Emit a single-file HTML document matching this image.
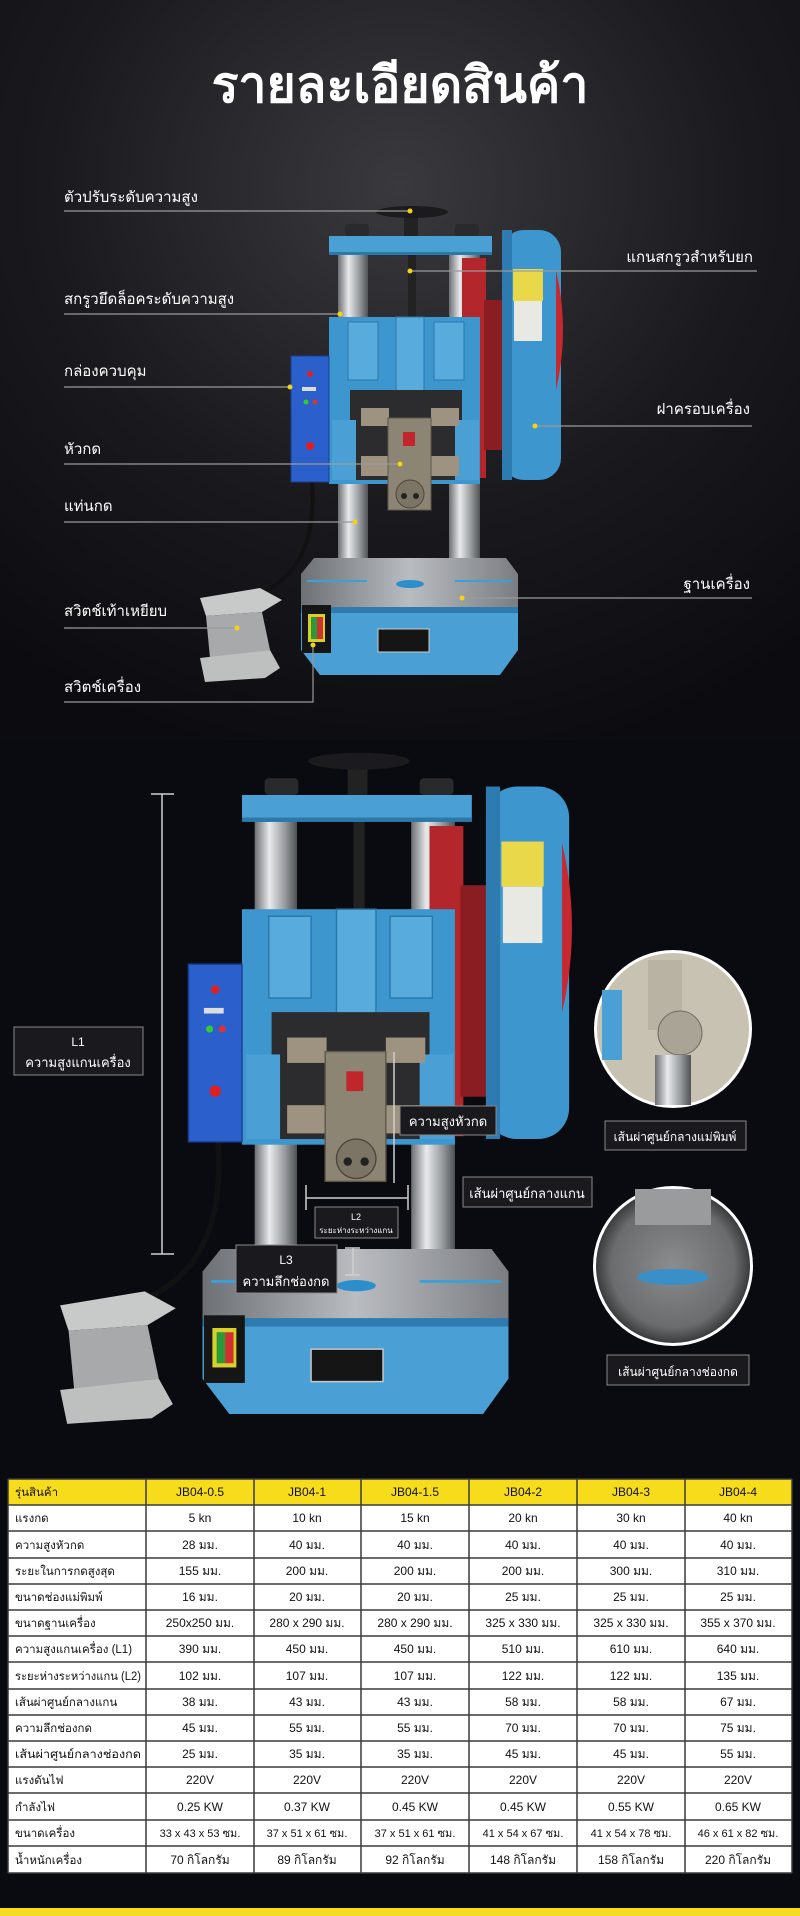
<!DOCTYPE html>
<html><head><meta charset="utf-8"><style>
html,body{margin:0;padding:0;background:#0b0b10;}
svg{display:block}
text{font-family:"Liberation Sans","DejaVu Sans",sans-serif;}
</style></head><body>
<svg width="800" height="1916" viewBox="0 0 800 1916" xmlns="http://www.w3.org/2000/svg">
<defs>
<radialGradient id="bg1" cx="0.5" cy="0.25" r="0.8">
<stop offset="0" stop-color="#3a3a3e"/><stop offset="0.55" stop-color="#1a1a1e"/><stop offset="1" stop-color="#0c0c10"/>
</radialGradient>
<linearGradient id="steel" x1="0" x2="1" y1="0" y2="0">
<stop offset="0" stop-color="#6b6e72"/><stop offset="0.35" stop-color="#e8eaec"/><stop offset="0.7" stop-color="#9a9da1"/><stop offset="1" stop-color="#505356"/>
</linearGradient>
<linearGradient id="basetop" x1="0" x2="1" y1="0" y2="0">
<stop offset="0" stop-color="#6d7075"/><stop offset="0.5" stop-color="#b9bcc0"/><stop offset="1" stop-color="#7a7d82"/>
</linearGradient>
<radialGradient id="circ" cx="0.5" cy="0.5" r="0.5">
<stop offset="0" stop-color="#8a8c8e"/><stop offset="0.8" stop-color="#6a6c6e"/><stop offset="1" stop-color="#3a3b3d"/>
</radialGradient>
<g id="m">
 <path d="M312,482 C316,540 300,580 250,598" stroke="#111" stroke-width="4" fill="none"/>
 <rect x="404" y="212" width="14" height="28" fill="#222"/>
 <ellipse cx="412" cy="212" rx="36" ry="6" fill="#1b1b1d"/>
 <rect x="345" y="224" width="24" height="12" rx="3" fill="#2a2a2c"/>
 <rect x="455" y="224" width="24" height="12" rx="3" fill="#2a2a2c"/>
 <rect x="338" y="255" width="30" height="312" fill="url(#steel)"/>
 <rect x="449" y="255" width="31" height="312" fill="url(#steel)"/>
 <rect x="408" y="255" width="8" height="65" fill="#222"/>
 <rect x="462" y="258" width="24" height="220" fill="#b3262c"/>
 <rect x="329" y="236" width="163" height="19" fill="#4aa0d4"/>
 <rect x="329" y="252" width="163" height="3" fill="#2c78a8"/>
 <rect x="329" y="317" width="151" height="167" fill="#3e96cf"/>
 <rect x="348" y="322" width="30" height="58" fill="#58acdd" stroke="#2a77a9"/>
 <rect x="396" y="317" width="28" height="90" fill="#58acdd" stroke="#2a77a9"/>
 <rect x="434" y="322" width="30" height="58" fill="#58acdd" stroke="#2a77a9"/>
 <rect x="350" y="390" width="112" height="90" fill="#2c2c2e"/>
 <rect x="332" y="420" width="24" height="60" fill="#4aa0d4"/>
 <rect x="455" y="420" width="24" height="60" fill="#4aa0d4"/>
 <rect x="361" y="408" width="28" height="18" fill="#9e9380"/>
 <rect x="431" y="408" width="28" height="18" fill="#9e9380"/>
 <rect x="361" y="456" width="28" height="20" fill="#9e9380"/>
 <rect x="431" y="456" width="28" height="20" fill="#9e9380"/>
 <rect x="388" y="418" width="43" height="92" fill="#8d8574" stroke="#5e574b"/>
 <rect x="403" y="432" width="12" height="14" fill="#c0262c"/>
 <circle cx="410" cy="494" r="14" fill="#7c7566" stroke="#4d473d"/>
 <circle cx="404" cy="496" r="3" fill="#222"/><circle cx="416" cy="496" r="3" fill="#222"/>
 <rect x="484" y="300" width="20" height="150" fill="#8a1d22"/>
 <rect x="502" y="230" width="59" height="250" rx="22" fill="#3e96cf"/>
 <rect x="502" y="230" width="10" height="250" fill="#2d7bb0"/>
 <rect x="513" y="269" width="30" height="32" fill="#e8d84a"/>
 <rect x="514" y="301" width="28" height="40" fill="#e9e9e4"/>
 <path d="M556,270 Q570,330 556,390 Z" fill="#c62a30"/>
 <rect x="291" y="356" width="38" height="126" fill="#2a5fcc" stroke="#1b3f8f"/>
 <circle cx="310" cy="374" r="3" fill="#e02020"/>
 <rect x="302" y="387" width="14" height="4" fill="#ddd"/>
 <circle cx="306" cy="402" r="2.5" fill="#3c3"/><circle cx="315" cy="402" r="2.5" fill="#d33"/>
 <circle cx="310" cy="446" r="4" fill="#e02020"/>
 <polygon points="314,558 506,558 518,574 518,610 301,610 301,574" fill="url(#basetop)"/>
 <ellipse cx="410" cy="584" rx="14" ry="4" fill="#2c8fcc"/>
 <rect x="307" y="580" width="60" height="2" fill="#3aa0da"/>
 <rect x="455" y="580" width="58" height="2" fill="#3aa0da"/>
 <polygon points="301,610 518,610 518,650 500,675 320,675 301,650" fill="#4aa0d4"/>
 <rect x="301" y="607" width="217" height="6" fill="#2d7bb0"/>
 <rect x="302" y="605" width="29" height="48" fill="#151515"/>
 <rect x="308" y="614" width="17" height="28" fill="#d7d02a"/>
 <rect x="311" y="617" width="6" height="22" fill="#2a9a3a"/><rect x="317" y="617" width="6" height="22" fill="#d03030"/>
 <rect x="378" y="629" width="51" height="23" fill="#151515" stroke="#ccc"/>
 <polygon points="200,598 260,588 282,600 262,612 206,616" fill="#c8c9c9"/>
 <polygon points="206,616 262,612 270,650 210,658" fill="#a8a9aa"/>
 <polygon points="200,658 270,650 280,668 265,678 205,682" fill="#bebfbf"/>
</g>
</defs>

<rect x="0" y="0" width="800" height="740" fill="url(#bg1)"/>
<rect x="0" y="740" width="800" height="1176" fill="#0a0a11"/>

<text x="400" y="102" text-anchor="middle" font-size="50" font-weight="bold" fill="#fff">รายละเอียดสินค้า</text>

<use href="#m"/>

<g font-size="15" fill="#fff">
<text x="64" y="202">ตัวปรับระดับความสูง</text>
<text x="64" y="304">สกรูวยึดล็อคระดับความสูง</text>
<text x="64" y="376">กล่องควบคุม</text>
<text x="64" y="454">หัวกด</text>
<text x="64" y="511">แท่นกด</text>
<text x="64" y="616">สวิตช์เท้าเหยียบ</text>
<text x="64" y="692">สวิตช์เครื่อง</text>
<text x="753" y="262" text-anchor="end">แกนสกรูวสำหรับยก</text>
<text x="750" y="414" text-anchor="end">ฝาครอบเครื่อง</text>
<text x="750" y="589" text-anchor="end">ฐานเครื่อง</text>
</g>
<g stroke="#9a9a9a" stroke-width="1.2" fill="none">
<line x1="64" y1="211" x2="410" y2="211"/>
<line x1="64" y1="314" x2="340" y2="314"/>
<line x1="64" y1="387" x2="290" y2="387"/>
<line x1="64" y1="464" x2="400" y2="464"/>
<line x1="64" y1="522" x2="355" y2="522"/>
<line x1="64" y1="628" x2="237" y2="628"/>
<polyline points="64,702 313,702 313,645"/>
<line x1="410" y1="271" x2="757" y2="271"/>
<line x1="535" y1="426" x2="752" y2="426"/>
<line x1="462" y1="598" x2="752" y2="598"/>
</g>
<g fill="#f5d313">
<circle cx="410" cy="211" r="2.5"/><circle cx="340" cy="314" r="2.5"/><circle cx="290" cy="387" r="2.5"/>
<circle cx="400" cy="464" r="2.5"/><circle cx="355" cy="522" r="2.5"/><circle cx="237" cy="628" r="2.5"/>
<circle cx="313" cy="645" r="2.5"/><circle cx="410" cy="271" r="2.5"/><circle cx="535" cy="426" r="2.5"/><circle cx="462" cy="598" r="2.5"/>
</g>

<use href="#m" transform="translate(242,795) scale(1.41) translate(-329,-236)"/>

<g stroke="#cfcfcf" stroke-width="1.5">
<line x1="162" y1="794" x2="162" y2="1254"/>
<line x1="151" y1="794" x2="174" y2="794"/>
<line x1="151" y1="1254" x2="174" y2="1254"/>
<line x1="306" y1="1198" x2="408" y2="1198"/>
<line x1="306" y1="1185" x2="306" y2="1210"/>
<line x1="408" y1="1185" x2="408" y2="1210"/>
<line x1="353" y1="1248" x2="353" y2="1275"/>
<line x1="345" y1="1248" x2="360" y2="1248"/>
<line x1="345" y1="1275" x2="360" y2="1275"/>
<line x1="394" y1="1052" x2="394" y2="1183"/>
</g>
<g fill="#1a1a1e" stroke="#8a8a8a" stroke-width="1">
<rect x="14" y="1027" width="129" height="48"/>
<rect x="400" y="1106" width="96" height="29"/>
<rect x="463" y="1177" width="129" height="30"/>
<rect x="315" y="1207" width="83" height="31"/>
<rect x="236" y="1245" width="101" height="48"/>
<rect x="605" y="1121" width="141" height="29"/>
<rect x="607" y="1355" width="142" height="30"/>
</g>
<g fill="#fff" text-anchor="middle">
<text x="78" y="1046" font-size="12">L1</text>
<text x="78" y="1067" font-size="13">ความสูงแกนเครื่อง</text>
<text x="448" y="1126" font-size="13">ความสูงหัวกด</text>
<text x="527" y="1198" font-size="13">เส้นผ่าศูนย์กลางแกน</text>
<text x="356" y="1220" font-size="9">L2</text>
<text x="356" y="1233" font-size="8">ระยะห่างระหว่างแกน</text>
<text x="286" y="1264" font-size="12">L3</text>
<text x="286" y="1286" font-size="13">ความลึกช่องกด</text>
<text x="675" y="1141" font-size="12">เส้นผ่าศูนย์กลางแม่พิมพ์</text>
<text x="678" y="1376" font-size="12">เส้นผ่าศูนย์กลางช่องกด</text>
</g>
<circle cx="673" cy="1029" r="79" fill="#fff"/>
<circle cx="673" cy="1029" r="76" fill="#c8c2b2"/>
<rect x="602" y="990" width="20" height="70" fill="#4aa0d4"/>
<rect x="648" y="960" width="34" height="70" fill="#b9b3a3"/>
<circle cx="680" cy="1033" r="22" fill="#aaa497" stroke="#6f6a5e"/>
<rect x="655" y="1055" width="36" height="50" fill="url(#steel)"/>
<circle cx="673" cy="1266" r="80" fill="#fff"/>
<circle cx="673" cy="1266" r="77" fill="url(#circ)"/>
<rect x="635" y="1189" width="76" height="36" fill="#9a9b9c"/>
<ellipse cx="673" cy="1277" rx="36" ry="8" fill="#3a8fc8"/>

<g font-size="12" fill="#111">
<rect x="8" y="1479" width="784" height="26" fill="#f7dc1b"/>
<rect x="8" y="1505" width="784" height="368" fill="#fff"/>
<g stroke="#3a3a3a" stroke-width="1.5">
<line x1="8" y1="1479" x2="792" y2="1479"/>
<line x1="8" y1="1505" x2="792" y2="1505"/>
<line x1="8" y1="1531" x2="792" y2="1531"/>
<line x1="8" y1="1558" x2="792" y2="1558"/>
<line x1="8" y1="1584" x2="792" y2="1584"/>
<line x1="8" y1="1610" x2="792" y2="1610"/>
<line x1="8" y1="1636" x2="792" y2="1636"/>
<line x1="8" y1="1662" x2="792" y2="1662"/>
<line x1="8" y1="1689" x2="792" y2="1689"/>
<line x1="8" y1="1715" x2="792" y2="1715"/>
<line x1="8" y1="1741" x2="792" y2="1741"/>
<line x1="8" y1="1767" x2="792" y2="1767"/>
<line x1="8" y1="1793" x2="792" y2="1793"/>
<line x1="8" y1="1820" x2="792" y2="1820"/>
<line x1="8" y1="1846" x2="792" y2="1846"/>
<line x1="8" y1="1873" x2="792" y2="1873"/>
<line x1="8" y1="1479" x2="8" y2="1873"/>
<line x1="146" y1="1479" x2="146" y2="1873"/>
<line x1="254" y1="1479" x2="254" y2="1873"/>
<line x1="361" y1="1479" x2="361" y2="1873"/>
<line x1="469" y1="1479" x2="469" y2="1873"/>
<line x1="577" y1="1479" x2="577" y2="1873"/>
<line x1="685" y1="1479" x2="685" y2="1873"/>
<line x1="792" y1="1479" x2="792" y2="1873"/>
</g>
<g font-size="11.5">
<text x="15" y="1496">รุ่นสินค้า</text>
<text x="15" y="1522">แรงกด</text>
<text x="15" y="1549">ความสูงหัวกด</text>
<text x="15" y="1575">ระยะในการกดสูงสุด</text>
<text x="15" y="1601">ขนาดช่องแม่พิมพ์</text>
<text x="15" y="1627">ขนาดฐานเครื่อง</text>
<text x="15" y="1653">ความสูงแกนเครื่อง (L1)</text>
<text x="15" y="1680" textLength="126" lengthAdjust="spacingAndGlyphs">ระยะห่างระหว่างแกน (L2)</text>
<text x="15" y="1706">เส้นผ่าศูนย์กลางแกน</text>
<text x="15" y="1732">ความลึกช่องกด</text>
<text x="15" y="1758" textLength="126" lengthAdjust="spacingAndGlyphs">เส้นผ่าศูนย์กลางช่องกด</text>
<text x="15" y="1784">แรงดันไฟ</text>
<text x="15" y="1811">กำลังไฟ</text>
<text x="15" y="1837">ขนาดเครื่อง</text>
<text x="15" y="1864">น้ำหนักเครื่อง</text>
</g>
<g text-anchor="middle">
<text x="200" y="1496">JB04-0.5</text><text x="307" y="1496">JB04-1</text><text x="415" y="1496">JB04-1.5</text><text x="523" y="1496">JB04-2</text><text x="631" y="1496">JB04-3</text><text x="738" y="1496">JB04-4</text>
<text x="200" y="1522">5 kn</text><text x="307" y="1522">10 kn</text><text x="415" y="1522">15 kn</text><text x="523" y="1522">20 kn</text><text x="631" y="1522">30 kn</text><text x="738" y="1522">40 kn</text>
<text x="200" y="1549">28 มม.</text><text x="307" y="1549">40 มม.</text><text x="415" y="1549">40 มม.</text><text x="523" y="1549">40 มม.</text><text x="631" y="1549">40 มม.</text><text x="738" y="1549">40 มม.</text>
<text x="200" y="1575">155 มม.</text><text x="307" y="1575">200 มม.</text><text x="415" y="1575">200 มม.</text><text x="523" y="1575">200 มม.</text><text x="631" y="1575">300 มม.</text><text x="738" y="1575">310 มม.</text>
<text x="200" y="1601">16 มม.</text><text x="307" y="1601">20 มม.</text><text x="415" y="1601">20 มม.</text><text x="523" y="1601">25 มม.</text><text x="631" y="1601">25 มม.</text><text x="738" y="1601">25 มม.</text>
<text x="200" y="1627">250x250 มม.</text><text x="307" y="1627">280 x 290 มม.</text><text x="415" y="1627">280 x 290 มม.</text><text x="523" y="1627">325 x 330 มม.</text><text x="631" y="1627">325 x 330 มม.</text><text x="738" y="1627">355 x 370 มม.</text>
<text x="200" y="1653">390 มม.</text><text x="307" y="1653">450 มม.</text><text x="415" y="1653">450 มม.</text><text x="523" y="1653">510 มม.</text><text x="631" y="1653">610 มม.</text><text x="738" y="1653">640 มม.</text>
<text x="200" y="1680">102 มม.</text><text x="307" y="1680">107 มม.</text><text x="415" y="1680">107 มม.</text><text x="523" y="1680">122 มม.</text><text x="631" y="1680">122 มม.</text><text x="738" y="1680">135 มม.</text>
<text x="200" y="1706">38 มม.</text><text x="307" y="1706">43 มม.</text><text x="415" y="1706">43 มม.</text><text x="523" y="1706">58 มม.</text><text x="631" y="1706">58 มม.</text><text x="738" y="1706">67 มม.</text>
<text x="200" y="1732">45 มม.</text><text x="307" y="1732">55 มม.</text><text x="415" y="1732">55 มม.</text><text x="523" y="1732">70 มม.</text><text x="631" y="1732">70 มม.</text><text x="738" y="1732">75 มม.</text>
<text x="200" y="1758">25 มม.</text><text x="307" y="1758">35 มม.</text><text x="415" y="1758">35 มม.</text><text x="523" y="1758">45 มม.</text><text x="631" y="1758">45 มม.</text><text x="738" y="1758">55 มม.</text>
<text x="200" y="1784">220V</text><text x="307" y="1784">220V</text><text x="415" y="1784">220V</text><text x="523" y="1784">220V</text><text x="631" y="1784">220V</text><text x="738" y="1784">220V</text>
<text x="200" y="1811">0.25 KW</text><text x="307" y="1811">0.37 KW</text><text x="415" y="1811">0.45 KW</text><text x="523" y="1811">0.45 KW</text><text x="631" y="1811">0.55 KW</text><text x="738" y="1811">0.65 KW</text>
<text x="200" y="1837" font-size="11">33 x 43 x 53 ซม.</text><text x="307" y="1837" font-size="11">37 x 51 x 61 ซม.</text><text x="415" y="1837" font-size="11">37 x 51 x 61 ซม.</text><text x="523" y="1837" font-size="11">41 x 54 x 67 ซม.</text><text x="631" y="1837" font-size="11">41 x 54 x 78 ซม.</text><text x="738" y="1837" font-size="11">46 x 61 x 82 ซม.</text>
<text x="200" y="1864">70 กิโลกรัม</text><text x="307" y="1864">89 กิโลกรัม</text><text x="415" y="1864">92 กิโลกรัม</text><text x="523" y="1864">148 กิโลกรัม</text><text x="631" y="1864">158 กิโลกรัม</text><text x="738" y="1864">220 กิโลกรัม</text>
</g>
</g>
<rect x="0" y="1908" width="800" height="8" fill="#f7dc1b"/>
</svg>
</body></html>
